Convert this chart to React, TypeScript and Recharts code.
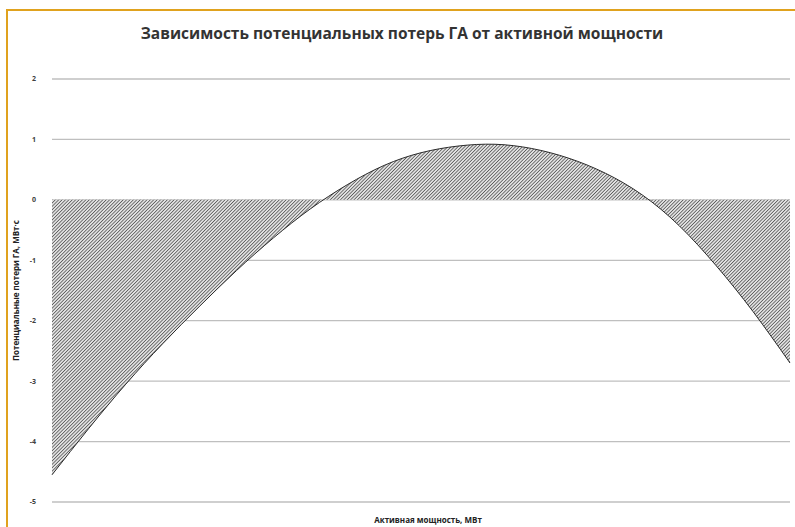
import { AreaChart, Area, XAxis, YAxis, CartesianGrid, Label } from 'recharts'

// active power, % of range (no tick labels on the axis)
const POWER = [0, 5, 10, 15, 20, 25, 30, 35, 40, 45, 50, 55, 60, 65, 70, 75, 80, 85, 90, 95, 100]
// potential losses, MW·s
const LOSSES = [-4.55, -3.78, -3.05, -2.38, -1.76, -1.17, -0.63, -0.15, 0.25, 0.57, 0.78, 0.89, 0.92, 0.85, 0.69, 0.44, 0.08, -0.43, -1.09, -1.85, -2.7]
const Y_TICKS = [-5, -4, -3, -2, -1, 0, 1, 2]

const data = POWER.map((p, i) => ({ p, loss: LOSSES[i] }))

const FONT = '"Open Sans", "Noto Sans", sans-serif'

export default function App() {
  return (
    <div style={{ position: 'absolute', left: 0, top: 0, width: 795, height: 527, background: '#fff', overflow: 'hidden', fontFamily: FONT }}>
      <div style={{ position: 'absolute', left: 6, top: 9, width: 800, height: 530, borderTop: '2px solid #E0A21E', borderLeft: '2px solid #E0A21E' }} />
      <div style={{ position: 'absolute', left: 0, top: 22, width: 804, textAlign: 'center', fontSize: 15.5, fontWeight: 700, color: '#333' }}>
        Зависимость потенциальных потерь ГА от активной мощности
      </div>
      <div style={{ position: 'absolute', left: 0, top: 514, width: 856, textAlign: 'center', fontSize: 8, fontWeight: 700, color: '#222' }}>
        Активная мощность, МВт
      </div>
      <div style={{ position: 'absolute', left: 0, top: 0 }}>
        <AreaChart width={795} height={527} data={data} margin={{ top: 79, right: 5, bottom: 25, left: 0 }}>
          <defs>
            <pattern id="hatch" patternUnits="userSpaceOnUse" width={2.4} height={2.4} patternTransform="rotate(45)">
              <rect width={2.4} height={2.4} fill="#e2e2e2" />
              <line x1={0} y1={0} x2={0} y2={2.4} stroke="#3c3c3c" strokeWidth={1.3} />
            </pattern>
          </defs>
          <CartesianGrid vertical={false} stroke="#BFBFBF" strokeWidth={1.3} />
          <XAxis dataKey="p" type="number" domain={[0, 100]} hide />
          <YAxis
            domain={[-5, 2]}
            ticks={Y_TICKS}
            width={52}
            axisLine={false}
            tickLine={false}
            tick={{ fontSize: 7, fill: '#404040', fontWeight: 700, fontFamily: FONT }}
            tickMargin={10}
          >
            <Label
              value="Потенциальные потери ГА, МВт·с"
              angle={-90}
              position="insideLeft"
              offset={16}
              style={{ fontSize: 8, fontWeight: 700, fill: '#222', fontFamily: FONT, textAnchor: 'middle' }}
            />
          </YAxis>
          <Area
            type="natural"
            dataKey="loss"
            stroke="#2a2a2a"
            strokeWidth={1}
            fill="url(#hatch)"
            fillOpacity={1}
            isAnimationActive={false}
          />
        </AreaChart>
      </div>
    </div>
  )
}
